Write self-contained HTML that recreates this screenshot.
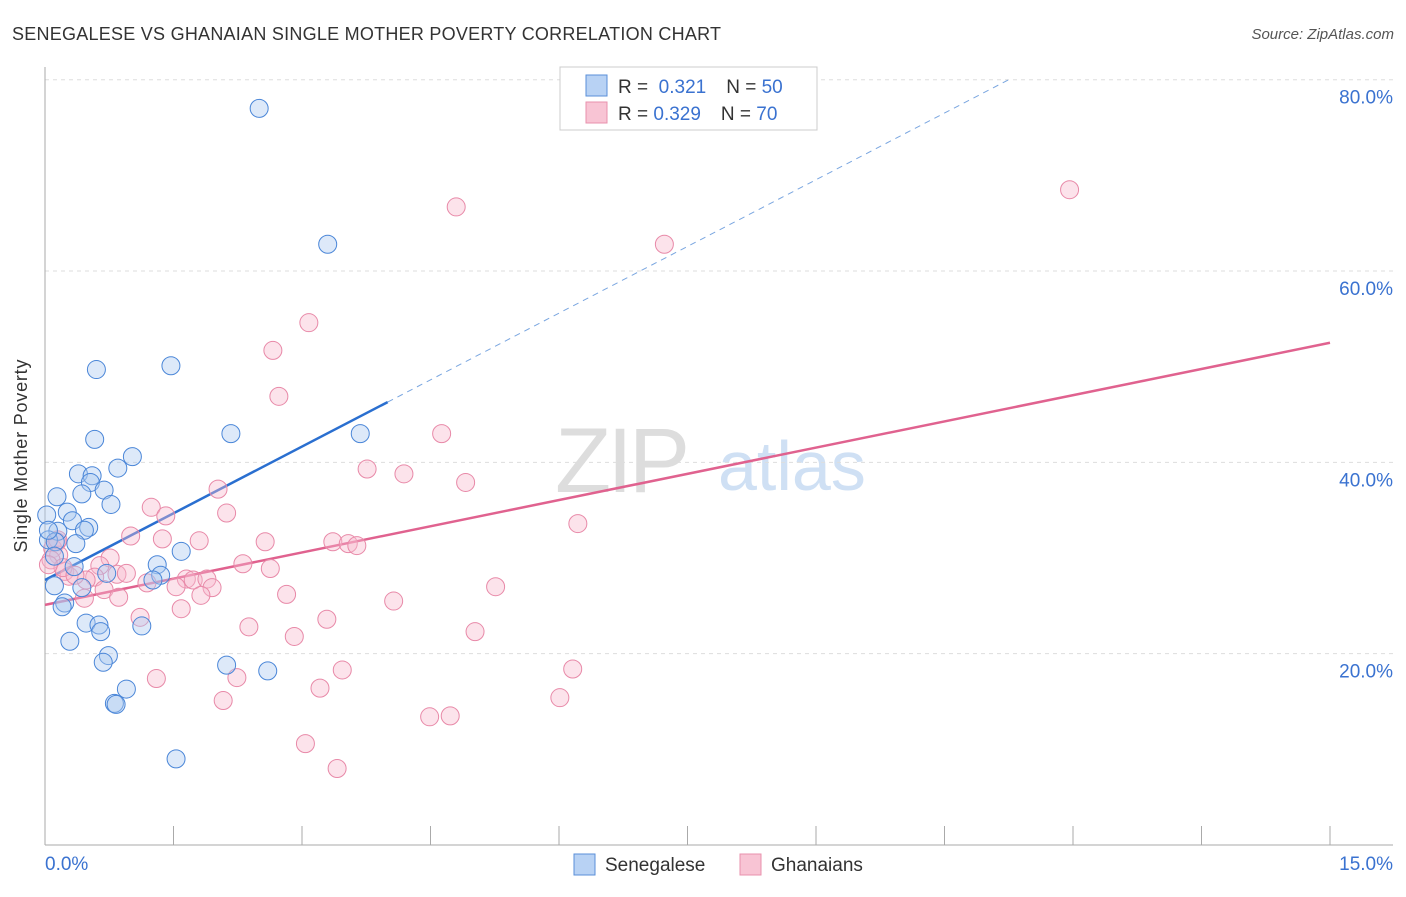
<!DOCTYPE html>
<html><head><meta charset="utf-8"><style>
body{margin:0;background:#fff;font-family:"Liberation Sans",sans-serif}
svg text{font-family:"Liberation Sans",sans-serif}
</style></head><body>
<svg id="chart" width="1406" height="892" xmlns="http://www.w3.org/2000/svg">
<text x="12" y="40" font-size="18" fill="#333" textLength="709">SENEGALESE VS GHANAIAN SINGLE MOTHER POVERTY CORRELATION CHART</text>
<text x="1394" y="39" font-size="15" fill="#555" text-anchor="end" font-style="italic">Source: ZipAtlas.com</text>
<g>
<text x="555" y="492" font-size="92" fill="#ddd" font-family="Liberation Serif" letter-spacing="-4">ZIP</text>
<text x="718" y="490" font-size="70" fill="#cfe0f4">atlas</text>
</g>
<g id="grid"></g>
<g id="axes"></g>
<g id="lines"></g>
<g id="points"></g>
<text x="27" y="456" font-size="18" fill="#333" textLength="193" transform="rotate(-90 27 456)" text-anchor="middle">Single Mother Poverty</text>
<g>
<rect x="560" y="67" width="257" height="63" fill="#fff" stroke="#ccc"/>
<rect x="586" y="75" width="21" height="21" fill="#b8d2f4" stroke="#5a8fd8"/>
<rect x="586" y="102" width="21" height="21" fill="#f8c4d4" stroke="#e891ad"/>
<text x="618" y="93" font-size="19" fill="#333">R = <tspan fill="#3a72d0">&#160;0.321</tspan><tspan dx="20">N = </tspan><tspan fill="#3a72d0">50</tspan></text>
<text x="618" y="120" font-size="19" fill="#333">R = <tspan fill="#3a72d0">0.329</tspan><tspan dx="20">N = </tspan><tspan fill="#3a72d0">70</tspan></text>
</g>
<g>
<rect x="574" y="854" width="21" height="21" fill="#b8d2f4" stroke="#5a8fd8"/>
<text x="605" y="871" font-size="19" fill="#333">Senegalese</text>
<rect x="740" y="854" width="21" height="21" fill="#f8c4d4" stroke="#e891ad"/>
<text x="771" y="871" font-size="19" fill="#333">Ghanaians</text>
</g>
</svg>
<script>
const yTicks=[20,40,60,80];
const yTickLabels=["20.0%","40.0%","60.0%","80.0%"];
const xTicks=[0,1.5,3,4.5,6,7.5,9,10.5,12,13.5,15];
const blueX=[2.50,3.30,1.47,0.60,2.17,3.68,0.58,1.02,0.85,0.39,0.55,0.53,0.69,0.43,0.14,0.77,0.26,0.02,0.32,0.51,0.15,0.46,0.04,0.12,0.36,1.59,0.11,1.31,0.34,1.35,1.26,0.72,0.11,0.43,0.23,0.20,0.48,0.63,0.65,1.13,0.29,0.74,0.68,2.12,2.60,0.95,0.81,0.83,1.53,0.04];
const blueY=[77.0,62.8,50.1,49.7,43.0,43.0,42.4,40.6,39.4,38.8,38.6,37.9,37.1,36.7,36.4,35.6,34.8,34.5,33.9,33.2,32.8,32.9,31.9,31.7,31.5,30.7,30.2,29.3,29.1,28.2,27.7,28.4,27.1,26.9,25.3,24.9,23.2,23.0,22.3,22.9,21.3,19.8,19.1,18.8,18.2,16.3,14.8,14.7,9.0,32.9];
const pinkX=[11.96,4.80,7.23,3.08,2.66,2.73,4.63,3.76,4.19,4.91,2.02,1.24,1.41,2.12,6.22,1.00,1.37,1.80,2.57,3.36,3.54,3.64,0.14,0.09,0.16,0.76,2.31,2.63,0.64,0.23,0.84,0.95,0.28,0.58,1.65,1.73,1.89,1.19,1.53,0.48,5.26,1.95,0.69,1.82,2.82,0.86,0.46,4.07,1.59,1.11,3.29,2.38,5.02,2.91,6.16,3.47,1.30,2.24,3.21,6.01,2.08,4.49,4.73,3.04,3.41,0.07,0.21,0.04,0.15,0.35];
const pinkY=[68.5,66.7,62.8,54.6,51.7,46.9,43.0,39.3,38.8,37.9,37.2,35.3,34.4,34.7,33.6,32.3,32.0,31.8,31.7,31.7,31.5,31.3,31.7,31.0,30.3,30.0,29.4,28.9,29.2,28.6,28.3,28.4,28.1,28.0,27.8,27.7,27.8,27.4,27.0,27.7,27.0,26.9,26.7,26.1,26.2,25.9,25.8,25.5,24.7,23.8,23.6,22.8,22.3,21.8,18.4,18.3,17.4,17.5,16.4,15.4,15.1,13.4,13.5,10.6,8.0,29.8,29.0,29.3,31.9,28.2];
const blueTrend=[[0,27.7],[4.0,46.3],[11.25,80]];
const pinkTrend=[[0,25.1],[15,52.5]];
const NS="http://www.w3.org/2000/svg";
const X=v=>45+v/15*1285, Y=v=>845-v/80*765.3;
function mk(tag,at,parent){const e=document.createElementNS(NS,tag);for(const k in at)e.setAttribute(k,at[k]);document.getElementById(parent).appendChild(e);return e;}
yTicks.forEach((t,i)=>{
 const l=mk('line',{x1:45,x2:1393,y1:Y(t),y2:Y(t),stroke:'#ddd','stroke-dasharray':'4,4'},'grid');
 
 
 const tx=mk('text',{x:1393,y:Y(t)+24,'font-size':19,fill:'#3a72d0','text-anchor':'end'},'axes');
 tx.textContent=yTickLabels[i];
 
 
});
const ax=mk('line',{x1:45,x2:45,y1:67,y2:845,stroke:'#aaa'},'axes');


const bx=mk('line',{x1:45,x2:1393,y1:845,y2:845,stroke:'#aaa'},'axes');


xTicks.forEach(t=>{const l=mk('line',{x1:X(t),x2:X(t),y1:826,y2:845,stroke:'#aaa'},'axes');
 
 });
[[0,"0.0%",'start',45],[15,"15.0%",'end',1393]].forEach(d=>{const t=mk('text',{x:d[3],y:870,'font-size':19,fill:'#3a72d0','text-anchor':d[2]},'axes');t.textContent=d[1];
 
 });
function pts(xs,ys,fill,stroke,name){xs.forEach((x,i)=>{const c=mk('circle',{cx:X(x),cy:Y(ys[i]),r:9,fill:fill,'fill-opacity':0.4,stroke:stroke,'stroke-width':1},'points');
 
 });}
pts(pinkX,pinkY,'#f7b9cc','#e889a8','ghanaian-point');
pts(blueX,blueY,'#a9c8f0','#4a86d8','senegalese-point');
let l1=mk('line',{x1:X(blueTrend[0][0]),y1:Y(blueTrend[0][1]),x2:X(blueTrend[1][0]),y2:Y(blueTrend[1][1]),stroke:'#2a6fd0','stroke-width':2.5},'lines');


let l2=mk('line',{x1:X(blueTrend[1][0]),y1:Y(blueTrend[1][1]),x2:X(blueTrend[2][0]),y2:Y(blueTrend[2][1]),stroke:'#7aa6e0','stroke-width':1,'stroke-dasharray':'6,5'},'lines');


let l3=mk('line',{x1:X(pinkTrend[0][0]),y1:Y(pinkTrend[0][1]),x2:X(pinkTrend[1][0]),y2:Y(pinkTrend[1][1]),stroke:'#e0628f','stroke-width':2.5},'lines');


</script>
</body></html>
